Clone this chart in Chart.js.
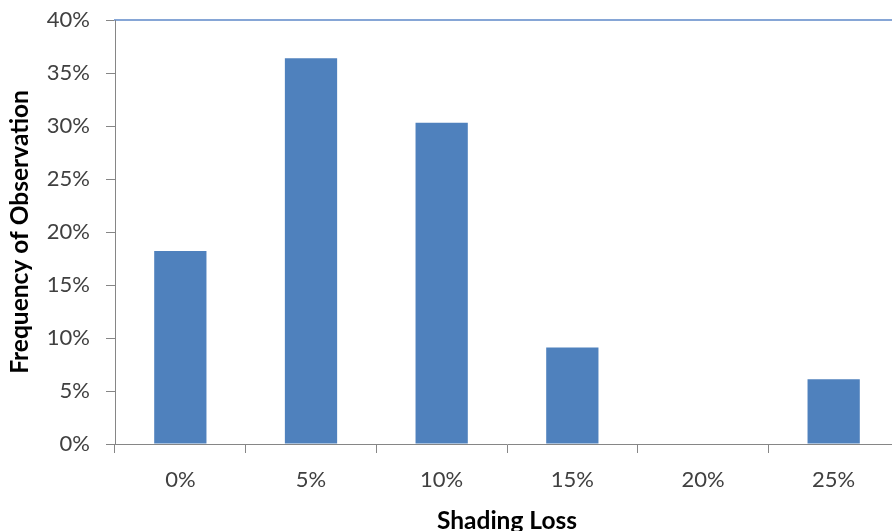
<!DOCTYPE html>
<html>
<head>
<meta charset="utf-8">
<script src="https://cdn.jsdelivr.net/npm/chart.js@4"></script>
<style>
  html, body { margin: 0; padding: 0; background: #fff; overflow: hidden; }
  #wrap { width: 905px; height: 540px; }
</style>
</head>
<body>
<div id="wrap"><canvas id="chart" width="905" height="540"></canvas></div>
<script>
const categories = ["0%", "5%", "10%", "15%", "20%", "25%"];
const frequency = [18.2, 36.4, 30.3, 9.1, 0, 6.1];
const yTicks = [0, 5, 10, 15, 20, 25, 30, 35, 40];

const axisGray = "#868686";
const textGray = "#404040";
const font = { family: "Lato, 'Open Sans', sans-serif", size: 22 };
const boldFont = { family: "Lato, 'Open Sans', sans-serif", size: 24.5, weight: "bold" };

new Chart(document.getElementById("chart"), {
  type: "bar",
  data: {
    labels: categories,
    datasets: [{
      label: "Frequency of Observation",
      data: frequency,
      backgroundColor: "#4F81BD",
      borderWidth: 0,
      categoryPercentage: 1,
      barPercentage: 0.4
    }]
  },
  options: {
    responsive: false,
    animation: false,
    layout: { padding: { top: 20, right: 6, left: 0, bottom: 0 } },
    plugins: { legend: { display: false }, tooltip: { enabled: false } },
    scales: {
      x: {
        grid: { display: true, drawOnChartArea: false, tickLength: 9, color: axisGray, offset: true },
        border: { color: axisGray, width: 1 },
        ticks: { color: textGray, font: font, padding: 14, maxRotation: 0 },
        title: { display: true, text: "Shading Loss", color: "#000", font: boldFont, padding: { top: 4, bottom: 4 } },
        afterFit: s => { s.height = 96; s.paddingLeft = 0; s.paddingRight = 0; }
      },
      x2: {
        position: "top",
        grid: { display: true, drawOnChartArea: false, drawTicks: false, color: "rgba(0,0,0,0)" },
        border: { color: "#86A6D6", width: 2 },
        ticks: { display: false },
        afterFit: s => { s.height = 0; }
      },
      y: {
        min: 0,
        max: 40,
        afterBuildTicks: s => { s.ticks = yTicks.map(v => ({ value: v })); },
        grid: { display: true, drawOnChartArea: false, tickLength: 9, color: axisGray },
        border: { color: axisGray, width: 1 },
        ticks: { color: textGray, font: font, padding: 16, callback: v => v + "%" },
        title: { display: true, text: "Frequency of Observation", color: "#000", font: boldFont, padding: { top: 5, bottom: 4 } },
        afterFit: s => { s.width = 115; s.paddingTop = 0; s.paddingBottom = 0; }
      }
    }
  }
});
</script>
</body>
</html>
